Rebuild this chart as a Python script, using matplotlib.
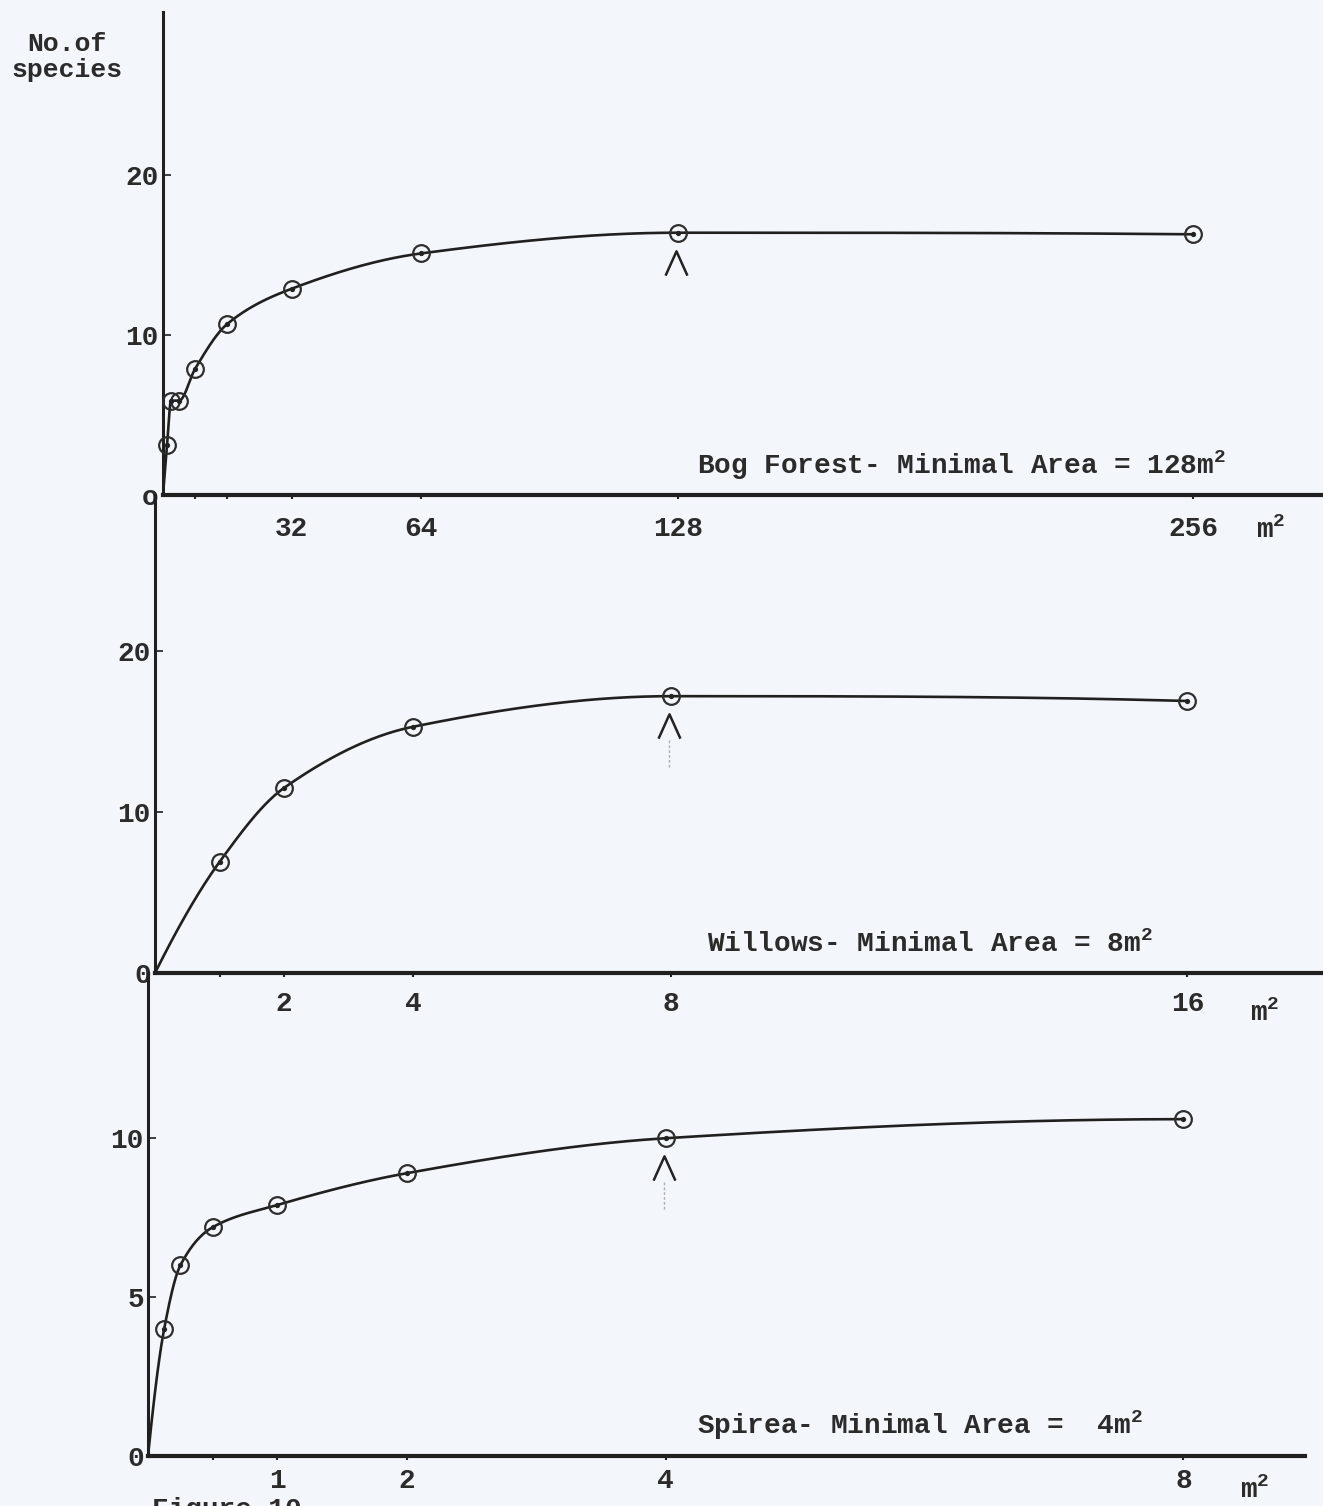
import numpy as np
import matplotlib
matplotlib.use("Agg")
import matplotlib.pyplot as plt
from matplotlib.path import Path
from matplotlib.transforms import offset_copy

# ---------------- data ----------------
bog_area = [1, 2, 4, 8, 16, 32, 64, 128, 256]
bog_species = [3.1, 5.9, 5.9, 7.9, 10.7, 12.9, 15.1, 16.4, 16.3]
bog_ticks = [8, 16, 32, 64, 128, 256]
bog_ticklabels = ["", "", "32", "64", "128", "256"]
bog_yticks = [0, 10, 20]
bog_yticklabels = ["o", "10", "20"]
bog_min_area = 128

wil_area = [1, 2, 4, 8, 16]
wil_species = [6.9, 11.5, 15.3, 17.2, 16.9]
wil_ticks = [1, 2, 4, 8, 16]
wil_ticklabels = ["", "2", "4", "8", "16"]
wil_yticks = [0, 10, 20]
wil_yticklabels = ["0", "10", "20"]
wil_min_area = 8

spi_area = [0.125, 0.25, 0.5, 1, 2, 4, 8]
spi_species = [4.0, 6.0, 7.2, 7.9, 8.9, 10.0, 10.6]
spi_ticks = [0.5, 1, 2, 4, 8]
spi_ticklabels = ["", "1", "2", "4", "8"]
spi_yticks = [0, 5, 10]
spi_yticklabels = ["0", "5", "10"]
spi_min_area = 4

titles = ["Bog Forest- Minimal Area = 128m$^{2}$",
          "Willows- Minimal Area = 8m$^{2}$",
          "Spirea- Minimal Area =  4m$^{2}$"]

# ---------------- style ----------------
W, H = 1323, 1506
BG = "#f3f6fa"
INK = "#202020"
TXT = "#2b2b2b"
FONT = "Liberation Mono"
FS = 20

plt.rcParams["font.family"] = [FONT, "DejaVu Sans Mono"]
plt.rcParams["font.weight"] = "bold"
plt.rcParams["mathtext.fontset"] = "custom"
plt.rcParams["mathtext.rm"] = "Liberation Mono:bold"
plt.rcParams["mathtext.it"] = "Liberation Mono:bold"
plt.rcParams["mathtext.default"] = "regular"

fig = plt.figure(figsize=(W / 100, H / 100), dpi=100, facecolor=BG)


def px_box(left, top, right, bottom):
    return [left / W, 1 - bottom / H, (right - left) / W, (bottom - top) / H]


def _end_slope(h0, h1, d0, d1):
    m = ((2 * h0 + h1) * d0 - h0 * d1) / (h0 + h1)
    if np.sign(m) != np.sign(d0):
        m = 0.0
    elif np.sign(d0) != np.sign(d1) and abs(m) > abs(3 * d0):
        m = 3 * d0
    return m


def pchip(x, y, xs):
    x = np.asarray(x, float)
    y = np.asarray(y, float)
    h = np.diff(x)
    d = np.diff(y) / h
    n = len(x)
    m = np.zeros(n)
    for k in range(1, n - 1):
        if d[k - 1] * d[k] > 0:
            w1 = 2 * h[k] + h[k - 1]
            w2 = h[k] + 2 * h[k - 1]
            m[k] = (w1 + w2) / (w1 / d[k - 1] + w2 / d[k])
    m[0] = _end_slope(h[0], h[1], d[0], d[1])
    m[-1] = _end_slope(h[-1], h[-2], d[-1], d[-2])
    idx = np.clip(np.searchsorted(x, xs) - 1, 0, n - 2)
    t = (xs - x[idx]) / h[idx]
    h00 = 2 * t**3 - 3 * t**2 + 1
    h10 = t**3 - 2 * t**2 + t
    h01 = -2 * t**3 + 3 * t**2
    h11 = t**3 - t**2
    return h00 * y[idx] + h10 * h[idx] * m[idx] + h01 * y[idx + 1] + h11 * h[idx] * m[idx + 1]


caret = Path([(-0.45, -0.5), (0, 0.5), (0.45, -0.5)],
             [Path.MOVETO, Path.LINETO, Path.LINETO])

panels = [
    dict(box=px_box(163, 12, 1323, 495), xmax=288.3, ymax=30.2,
         x=bog_area, y=bog_species, ticks=bog_ticks, tl=bog_ticklabels,
         yt=bog_yticks, ytl=bog_yticklabels, mina=bog_min_area, pad=12,
         shaft=False, title_xy=(697, 465), m2_xy=(1256, 530)),
    dict(box=px_box(155, 495, 1323, 973), xmax=18.1, ymax=29.7,
         x=wil_area, y=wil_species, ticks=wil_ticks, tl=wil_ticklabels,
         yt=wil_yticks, ytl=wil_yticklabels, mina=wil_min_area, pad=10,
         shaft=True, title_xy=(707, 944), m2_xy=(1250, 1013)),
    dict(box=px_box(148, 973, 1305, 1456), xmax=8.94, ymax=15.2,
         x=spi_area, y=spi_species, ticks=spi_ticks, tl=spi_ticklabels,
         yt=spi_yticks, ytl=spi_yticklabels, mina=spi_min_area, pad=6,
         shaft=True, title_xy=(697, 1425), m2_xy=(1240, 1490)),
]

for i, p in enumerate(panels):
    ax = fig.add_axes(p["box"])
    ax.set_facecolor("none")
    ax.set_xlim(0, p["xmax"])
    ax.set_ylim(0, p["ymax"])
    for s in ["top", "right"]:
        ax.spines[s].set_visible(False)
    ax.spines["bottom"].set_linewidth(3.0)
    ax.spines["left"].set_linewidth(2.2)
    ax.spines["bottom"].set_color(INK)
    ax.spines["left"].set_color(INK)

    ax.set_xticks(p["ticks"])
    ax.set_xticklabels(p["tl"])
    ax.set_yticks(p["yt"])
    ax.set_yticklabels(p["ytl"])
    ax.tick_params(axis="x", direction="out", length=3, width=1.5, color=INK,
                   pad=p["pad"], labelsize=FS, labelcolor=TXT)
    ax.tick_params(axis="y", direction="in", length=6, width=1.2, color=INK,
                   pad=3, labelsize=FS, labelcolor=TXT)

    # smooth hand-drawn style curve from the origin through the points
    cx = np.r_[0.0, p["x"]]
    cy = np.r_[0.0, p["y"]]
    xs = np.linspace(0, cx[-1], 2000)
    ax.plot(xs, pchip(cx, cy, xs), color=INK, lw=1.9, solid_capstyle="round",
            clip_on=False, zorder=3)
    # circled-dot points
    ax.plot(p["x"], p["y"], ls="none", marker="o", ms=12, mfc="none",
            mec="#2e2e2e", mew=1.6, zorder=4, clip_on=False)
    ax.plot(p["x"], p["y"], ls="none", marker="o", ms=3.8, mfc="#222222",
            mec="none", zorder=5, clip_on=False)

    # minimal-area caret
    k = p["x"].index(p["mina"])
    tr = offset_copy(ax.transData, fig=fig, x=-2, y=-30, units="dots")
    ax.plot([p["x"][k]], [p["y"][k]], ls="none", marker=caret, ms=17.5,
            mfc="none", mec="#222222", mew=1.8, transform=tr, zorder=4)
    if p["shaft"]:
        tr1 = offset_copy(ax.transData, fig=fig, x=-2, y=-44, units="dots")
        tr2 = offset_copy(ax.transData, fig=fig, x=-2, y=-72, units="dots")
        a = tr1.transform((p["x"][k], p["y"][k]))
        b = tr2.transform((p["x"][k], p["y"][k]))
        fig.add_artist(plt.Line2D([a[0] / W, b[0] / W], [a[1] / H, b[1] / H],
                                  transform=fig.transFigure, color="#b0b0b0",
                                  lw=1.0, ls=(0, (2, 1.5))))

    tx, ty = p["title_xy"]
    fig.text(tx / W, 1 - ty / H, titles[i], fontsize=FS, color=TXT,
             ha="left", va="center")
    mx, my = p["m2_xy"]
    fig.text(mx / W, 1 - my / H, "m$^{2}$", fontsize=FS, color=TXT,
             ha="left", va="center")

fig.text(67 / W, 1 - 57 / H, "No.of\nspecies", fontsize=FS - 1, color=TXT,
         ha="center", va="center", linespacing=1.1)
fig.text(152 / W, 1 - 1497 / H, "Figure 10", fontsize=FS, color=TXT,
         ha="left", va="top")

fig.savefig("out.png", dpi=100, facecolor=BG)
